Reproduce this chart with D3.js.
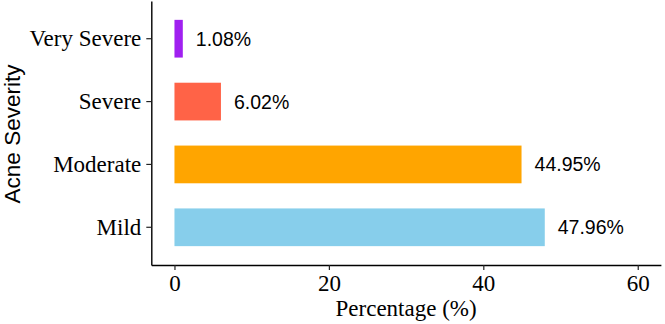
<!DOCTYPE html>
<html>
<head>
<meta charset="utf-8">
<script src="https://cdn.jsdelivr.net/npm/d3@7"></script>
<style>
  body { margin: 0; background: #fff; }
  svg { display: block; }
</style>
</head>
<body>
<svg id="chart" width="665" height="324"></svg>
<script>
// data
const severity = ["Very Severe", "Severe", "Moderate", "Mild"];
const percent = [1.08, 6.02, 44.95, 47.96];
const barColors = ["#A020F0", "#FF6347", "#FFA500", "#87CEEB"];
const xTicks = [0, 20, 40, 60];

const data = severity.map((s, i) => ({ name: s, value: percent[i], color: barColors[i] }));

const svg = d3.select("#chart");

const x = d3.scaleLinear().domain([-3, 63]).range([151.3, 660.9]);
const y = d3.scaleBand()
  .domain(severity)
  .range([1, 265])
  .paddingInner(0.4)
  .paddingOuter(0.3);

// bars
svg.selectAll("rect.bar")
  .data(data)
  .enter()
  .append("rect")
  .attr("class", "bar")
  .attr("x", x(0))
  .attr("y", (d) => y(d.name))
  .attr("width", (d) => x(d.value) - x(0))
  .attr("height", y.bandwidth())
  .attr("fill", (d) => d.color);

// value labels
svg.selectAll("text.val")
  .data(data)
  .enter()
  .append("text")
  .attr("class", "val")
  .attr("x", (d) => x(d.value) + 13)
  .attr("y", (d) => y(d.name) + y.bandwidth() / 2)
  .attr("dy", "0.36em")
  .style("font-family", "'Liberation Sans', Arial, sans-serif")
  .style("font-size", "19.5px")
  .style("fill", "#000")
  .text((d) => d.value.toFixed(2) + "%");

// x axis
const xAxis = svg.append("g")
  .attr("transform", "translate(0,265)")
  .call(d3.axisBottom(x).tickValues(xTicks).tickSize(5).tickPadding(5).tickSizeOuter(0));
xAxis.select(".domain").attr("stroke", "#000").attr("stroke-width", 1.4);
xAxis.selectAll(".tick line").attr("stroke", "#222").attr("stroke-width", 1.2);
xAxis.selectAll(".tick text")
  .style("font-family", "'Liberation Serif', 'Times New Roman', serif")
  .style("font-size", "23px")
  .attr("fill", "#000");

// y axis
const yAxis = svg.append("g")
  .attr("transform", "translate(151.3,0)")
  .call(d3.axisLeft(y).tickSize(5).tickPadding(5).tickSizeOuter(0));
yAxis.select(".domain").attr("stroke", "#000").attr("stroke-width", 1.4);
yAxis.selectAll(".tick line").attr("stroke", "#222").attr("stroke-width", 1.2);
yAxis.selectAll(".tick text")
  .style("font-family", "'Liberation Serif', 'Times New Roman', serif")
  .style("font-size", "23px")
  .attr("fill", "#000");

// axis titles
svg.append("text")
  .attr("x", (151.3 + 660.9) / 2)
  .attr("y", 316)
  .attr("text-anchor", "middle")
  .style("font-family", "'Liberation Serif', 'Times New Roman', serif")
  .style("font-size", "23px")
  .style("fill", "#000")
  .text("Percentage (%)");

svg.append("text")
  .attr("transform", "translate(20,134) rotate(-90)")
  .attr("text-anchor", "middle")
  .style("font-family", "'Liberation Sans', Arial, sans-serif")
  .style("font-size", "22.5px")
  .style("fill", "#000")
  .text("Acne Severity");
</script>
</body>
</html>
